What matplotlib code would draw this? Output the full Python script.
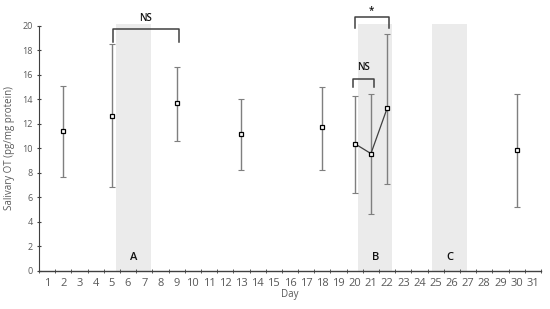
import matplotlib
matplotlib.use("Agg")
import matplotlib.pyplot as plt
import numpy as np

plt.rcParams['font.family'] = ['Open Sans', 'DejaVu Sans']

days = list(range(1, 32))
single_days = [2, 5, 9, 13, 18, 30]
single_mean = [11.42, 12.67, 13.71, 11.2, 11.72, 9.87]
single_upper = [15.07, 18.5, 16.63, 14.0, 15.05, 14.45]
single_lower = [7.63, 6.82, 10.58, 8.23, 8.23, 5.18]

line_days = [20, 21, 22]
line_mean = [10.38, 9.57, 13.28]
line_upper = [14.3, 14.45, 19.35]
line_lower = [6.33, 4.61, 7.11]

shade_labels = ["A", "B", "C"]
shade_start = [5.27, 20.2, 24.8]
shade_end = [7.42, 22.32, 26.95]

fig = plt.figure(figsize=(5.5, 3.09), dpi=100)
ax = fig.add_axes([0.0709, 0.124, 0.9127, 0.792])

for s, e, lab in zip(shade_start, shade_end, shade_labels):
    ax.fill_between([s, e], 0, 20.15, color="#EBEBEB", lw=0, zorder=0, clip_on=False)
    ax.text((s + e) / 2, 1.1, lab, ha="center", va="center", fontsize=8,
            color="#111111", fontweight="semibold")

ecol = "#7F7F7F"
def draw(x, m, up, lo):
    m = np.array(m); up = np.array(up); lo = np.array(lo)
    ax.errorbar(x, m, yerr=[m - lo, up - m], fmt="none", ecolor=ecol,
                elinewidth=1.0, capsize=2, capthick=0.8, zorder=2)

draw(single_days, single_mean, single_upper, single_lower)
draw(line_days, line_mean, line_upper, line_lower)
ax.plot(line_days, line_mean, color="#404040", lw=0.9, zorder=3)
ax.plot(single_days + line_days, single_mean + line_mean, ls="none", marker="s",
        ms=3.4, mfc="white", mec="black", mew=0.9, zorder=4)

# significance brackets
bc = "#404040"
def bracket(x1, x2, ytop, ybot, txt, ty, fs):
    ax.plot([x1, x1, x2, x2], [ybot, ytop, ytop, ybot], color=bc, lw=1.1,
            clip_on=False, zorder=5)
    ax.text((x1 + x2) / 2, ty, txt, ha="center", va="center", fontsize=fs,
            color="#111111", fontweight="semibold")

bracket(5.08, 9.12, 19.78, 18.7, "NS", 20.6, 7)
bracket(20.0, 22.1, 20.72, 19.82, "*", 21.25, 7)
bracket(19.9, 21.2, 15.65, 15.0, "NS", 16.6, 7)

ax.set_xlim(0.5, 31.5)
ax.set_ylim(0, 20)
ax.set_xticks(days)
ax.set_xticklabels([str(d) for d in days])
ax.set_xticks(np.arange(0.5, 32, 1), minor=True)
ax.tick_params(axis="x", which="major", length=0, labelsize=8, colors="#595959", pad=5)
ax.tick_params(axis="x", which="minor", length=3, direction="inout", color="#404040")
ax.set_yticks(range(0, 21, 2))
ax.tick_params(axis="y", length=3, direction="inout", labelsize=6.5, colors="#595959", pad=3)
ax.tick_params(axis="y", color="#404040")

for sp in ["top", "right"]:
    ax.spines[sp].set_visible(False)
ax.spines["left"].set_color("#404040")
ax.spines["bottom"].set_color("#404040")
ax.spines["left"].set_linewidth(0.8)
ax.spines["bottom"].set_linewidth(1.0)

ax.set_xlabel("Day", fontsize=7, color="#595959", labelpad=0)
ax.set_ylabel("Salivary OT (pg/mg protein)", fontsize=7, color="#595959", labelpad=5)

fig.savefig("out.png", dpi=100)
